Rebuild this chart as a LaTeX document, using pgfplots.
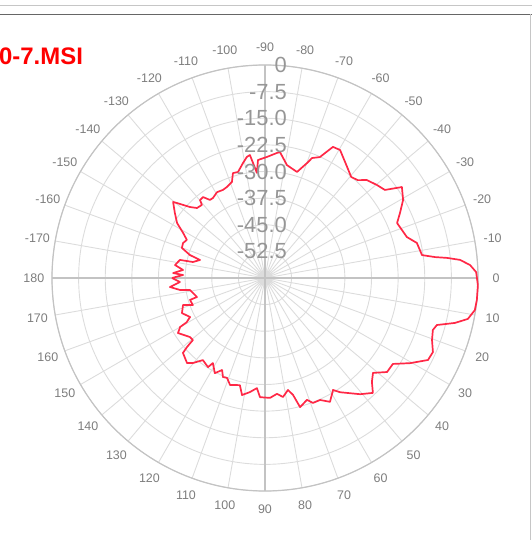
\documentclass[border=0pt]{standalone}
\usepackage{pgfplots}
\pgfplotsset{compat=1.18}
\usepgfplotslibrary{polar}
\usepackage{pgfplotstable}
\usepackage{fontspec}
\setmainfont{Liberation Sans}
\definecolor{curve}{RGB}{255,40,70}
\definecolor{gridc}{RGB}{220,220,220}
\definecolor{axisc}{RGB}{195,195,195}
\definecolor{labc}{RGB}{125,125,125}
\definecolor{ringlab}{RGB}{150,150,150}
\newcommand\rlfont{\fontsize{22}{22}\selectfont}
\newcommand\alfont{\fontsize{12.5}{12.5}\selectfont}
\tikzset{
  rl/.style={anchor=east, inner sep=0pt, text=ringlab, xshift=22bp, font=\rlfont},
  al/.style={anchor=center, inner sep=0pt, text=labc, font=\alfont},
}

\pgfplotstableread{
theta db
-180 -33.8
-177.9 -36.9
-176.9 -34.1
-174.4 -36.8
-171.8 -34.4
-168.0 -35.5
-167.5 -39.2
-164.5 -41.0
-163.0 -37.9
-160.1 -35.1
-156.9 -34.9
-154.0 -35.5
-151.2 -33.7
-148.0 -30.8
-144.2 -28.7
-140.4 -26.4
-139.6 -27.4
-136.6 -30.9
-134.2 -32.5
-130.8 -32.8
-129.8 -31.4
-127.4 -31.3
-125.2 -33.1
-123.0 -33.1
-119.2 -32.3
-115.5 -32.5
-112.7 -32.2
-109.0 -31.4
-107.0 -29.1
-104.3 -29.2
-100.8 -27.0
-98.5 -25.5
-97.0 -25.1
-94.4 -30.3
-93.4 -26.7
-89.1 -25.9
-84.5 -24.6
-83.2 -24.3
-79.0 -27.6
-73.2 -28.8
-69.9 -25.5
-68.6 -23.7
-65.6 -22.6
-62.6 -18.4
-59.6 -18.2
-53.5 -21.1
-49.5 -22.6
-46.5 -22.0
-43.9 -20.2
-39.7 -19.0
-36.3 -18.1
-33.6 -13.7
-29.5 -15.3
-25.7 -17.8
-22.6 -19.7
-16.1 -18.4
-13.0 -16.1
-8.3 -15.3
-7.0 -11.7
-6.3 -8.4
-5.3 -4.8
-3.6 -2.1
-1.6 -0.5
1.9 0.0
5.9 0.0
8.7 -0.2
11.4 -1.7
13.3 -5.0
15.3 -9.8
17.2 -10.5
20.4 -9.8
23.8 -8.3
26.7 -8.6
30.4 -12.6
33.9 -16.6
37.6 -16.6
41.3 -19.5
44.2 -18.0
46.8 -15.6
50.7 -17.7
56.7 -21.5
58.7 -23.1
62.3 -20.6
65.7 -22.3
69.0 -22.3
71.0 -23.7
74.8 -22.3
76.5 -26.1
78.4 -27.8
81.4 -26.1
84.1 -27.2
87.6 -26.2
92.4 -26.4
94.2 -28.9
97.5 -27.6
101.1 -26.4
103.2 -29.0
108.1 -28.3
110.8 -29.9
113.0 -29.7
115.0 -31.4
117.8 -29.7
121.5 -31.9
122.6 -30.2
127.1 -31.0
130.3 -28.6
132.5 -27.5
137.6 -28.7
138.5 -30.7
139.3 -33.2
141.8 -33.1
147.7 -31.0
150.0 -32.4
150.5 -34.6
152.5 -36.2
157.1 -34.6
161.8 -35.7
159.4 -38.3
163.7 -38.0
164.4 -40.1
170.9 -38.6
172.0 -35.8
174.6 -33.1
177.3 -36.0
180 -33.8
}\gaindata

\begin{document}
\begin{tikzpicture}
\useasboundingbox (0bp,0bp) rectangle (532bp,540bp);
\draw[color=gray!45, line width=1bp] (0bp,534bp) -- (532bp,534bp);
\draw[color=black!60, line width=1.5bp] (0bp,525.5bp) -- (532bp,525.5bp);
\draw[color=gray!45, line width=1bp] (530.5bp,525.5bp) -- (530.5bp,0bp);
\node[anchor=west, inner sep=0pt, text=red, font=\bfseries\fontsize{24}{24}\selectfont] at (-1bp,484bp) {0-7.MSI};
\begin{polaraxis}[
  at={(265bp,262bp)}, anchor=center,
  scale only axis, width=426bp, height=426bp,
  xmin=0, xmax=360, ymin=0, ymax=60,
  xtick={0,10,...,350}, xticklabels={},
  ytick={7.5,15,22.5,30,37.5,45,52.5,60}, yticklabels={},
  major tick length=0pt,
  grid=major,
  grid style={draw=gridc, line width=0.9bp},
  extra x ticks={0,90,180,270}, extra x tick labels={},
  extra x tick style={grid=major, major grid style={draw=axisc, line width=1.1bp}},
  separate axis lines,
  x axis line style={draw=axisc, line width=1.2bp},
  y axis line style={draw=none},
  clip=false,
]
\addplot[curve, line width=1.7bp, line join=round, no marks] table[x expr={-\thisrow{theta}}, y expr={\thisrow{db}+60}] {\gaindata};
\node[rl] at (axis cs:90,60) {0};
\node[rl] at (axis cs:90,52.5) {-7.5};
\node[rl] at (axis cs:90,45) {-15.0};
\node[rl] at (axis cs:90,37.5) {-22.5};
\node[rl] at (axis cs:90,30) {-30.0};
\node[rl] at (axis cs:90,22.5) {-37.5};
\node[rl] at (axis cs:90,15) {-45.0};
\node[rl] at (axis cs:90,7.5) {-52.5};
\node[al] at (axis cs:0,65.1) {0};
\node[al] at (axis cs:10,65.1) {-10};
\node[al] at (axis cs:20,65.1) {-20};
\node[al] at (axis cs:30,65.1) {-30};
\node[al] at (axis cs:40,65.1) {-40};
\node[al] at (axis cs:50,65.1) {-50};
\node[al] at (axis cs:60,65.1) {-60};
\node[al] at (axis cs:70,65.1) {-70};
\node[al] at (axis cs:80,65.1) {-80};
\node[al] at (axis cs:90,65.1) {-90};
\node[al] at (axis cs:100,65.1) {-100};
\node[al] at (axis cs:110,65.1) {-110};
\node[al] at (axis cs:120,65.1) {-120};
\node[al] at (axis cs:130,65.1) {-130};
\node[al] at (axis cs:140,65.1) {-140};
\node[al] at (axis cs:150,65.1) {-150};
\node[al] at (axis cs:160,65.1) {-160};
\node[al] at (axis cs:170,65.1) {-170};
\node[al] at (axis cs:180,65.1) {180};
\node[al] at (axis cs:190,65.1) {170};
\node[al] at (axis cs:200,65.1) {160};
\node[al] at (axis cs:210,65.1) {150};
\node[al] at (axis cs:220,65.1) {140};
\node[al] at (axis cs:230,65.1) {130};
\node[al] at (axis cs:240,65.1) {120};
\node[al] at (axis cs:250,65.1) {110};
\node[al] at (axis cs:260,65.1) {100};
\node[al] at (axis cs:270,65.1) {90};
\node[al] at (axis cs:280,65.1) {80};
\node[al] at (axis cs:290,65.1) {70};
\node[al] at (axis cs:300,65.1) {60};
\node[al] at (axis cs:310,65.1) {50};
\node[al] at (axis cs:320,65.1) {40};
\node[al] at (axis cs:330,65.1) {30};
\node[al] at (axis cs:340,65.1) {20};
\node[al] at (axis cs:350,65.1) {10};
\end{polaraxis}
\end{tikzpicture}
\end{document}
